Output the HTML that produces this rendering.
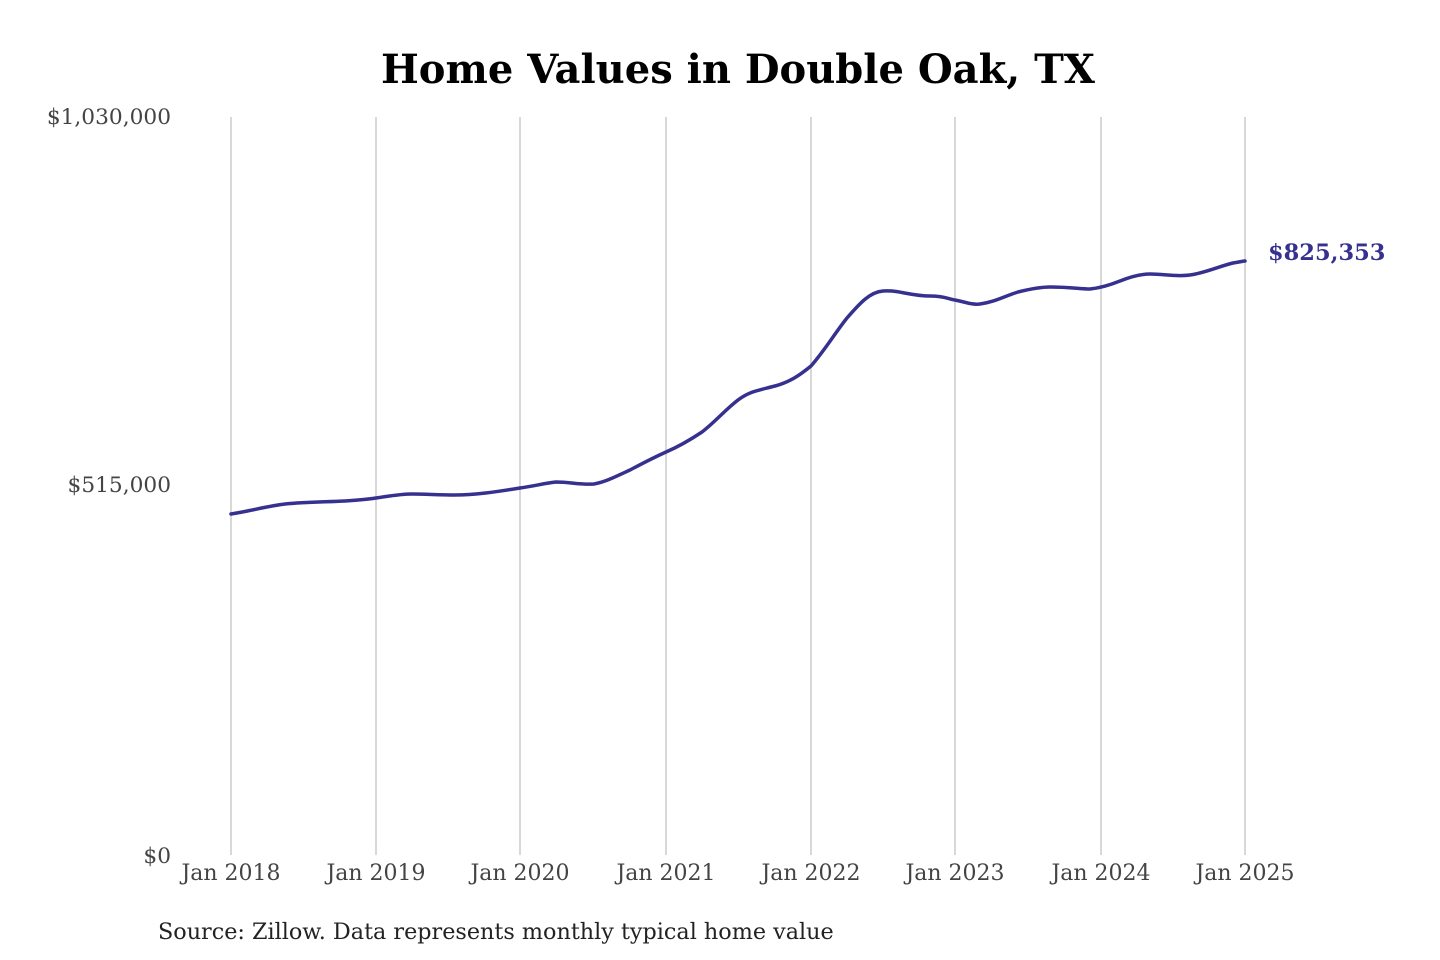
<!DOCTYPE html>
<html><head><meta charset="utf-8"><style>
html,body{margin:0;padding:0;background:#fff;width:1440px;height:960px;overflow:hidden}
svg text{font-family:"DejaVu Serif","Liberation Serif",serif}
</style></head><body>
<svg width="1440" height="960" viewBox="0 0 1440 960" xmlns="http://www.w3.org/2000/svg">
<text x="738" y="83" text-anchor="middle" font-size="40" font-weight="bold" fill="#000">Home Values in Double Oak, TX</text>
<g stroke="#c4c4c4" stroke-width="1.3">
<line x1="231" y1="117" x2="231" y2="855"/><line x1="376" y1="117" x2="376" y2="855"/>
<line x1="520" y1="117" x2="520" y2="855"/><line x1="666" y1="117" x2="666" y2="855"/>
<line x1="811" y1="117" x2="811" y2="855"/><line x1="955" y1="117" x2="955" y2="855"/>
<line x1="1101" y1="117" x2="1101" y2="855"/><line x1="1245" y1="117" x2="1245" y2="855"/>
</g>
<g font-size="21.7" fill="#444" text-anchor="end">
<text x="171" y="124">$1,030,000</text><text x="171" y="492">$515,000</text><text x="171" y="863">$0</text>
</g>
<g font-size="22" fill="#444" text-anchor="middle">
<text x="231" y="880">Jan 2018</text><text x="376" y="880">Jan 2019</text><text x="520" y="880">Jan 2020</text>
<text x="666" y="880">Jan 2021</text><text x="811" y="880">Jan 2022</text><text x="955" y="880">Jan 2023</text>
<text x="1101" y="880">Jan 2024</text><text x="1245" y="880">Jan 2025</text>
</g>
<path fill="none" stroke="#36318f" stroke-width="3.5" stroke-linejoin="round" stroke-linecap="round"
d="M231,514 C250,511 268,506 285,504 C305,502 325,502 345,501 C360,500 370,499 376,498 C390,496 400,494 412,494 C425,494 440,495 455,495 C475,495 495,492 520,488 C535,486 545,483 556,482 C570,482 580,485 594,484 C605,482 615,477 630,470 C645,462 655,457 666,452 C680,446 690,440 702,432 C715,422 725,410 738,400 C750,391 760,390 775,386 C790,382 800,375 811,366 C825,350 835,333 847,318 C860,303 870,292 883,291 C900,290 910,296 930,296 C945,296 948,299 955,300 C965,302 972,305 980,304 C995,302 1005,296 1018,292 C1030,289 1040,287 1050,287 C1070,287 1080,289 1090,289 C1100,288 1110,285 1120,281 C1130,277 1140,274 1150,274 C1165,274 1175,277 1190,275 C1205,273 1220,266 1233,263 C1240,262 1243,261 1245,261"/>
<text x="1268" y="260" font-size="22.5" font-weight="bold" fill="#36318f">$825,353</text>
<text x="158" y="939" font-size="22.3" fill="#222">Source: Zillow. Data represents monthly typical home value</text>
</svg>
</body></html>
